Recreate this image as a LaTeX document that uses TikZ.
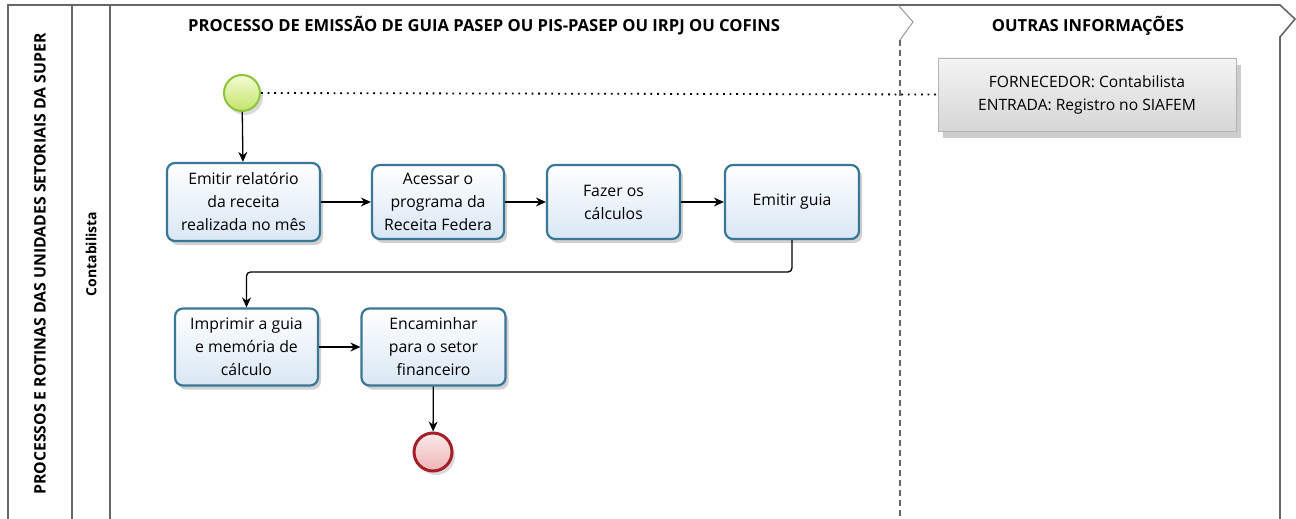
\documentclass[tikz,border=0pt]{standalone}
\usepackage{fontspec}
\setmainfont{Open Sans}
\usetikzlibrary{arrows.meta,shadows,calc}
\definecolor{taskborder}{HTML}{3A7696}
\definecolor{tasktop}{HTML}{FFFFFF}
\definecolor{taskbot}{HTML}{D9E7F4}
\definecolor{framecol}{HTML}{666666}
\definecolor{startborder}{HTML}{8CC43C}
\definecolor{starttop}{HTML}{F4FBD2}
\definecolor{startbot}{HTML}{C2E46A}
\definecolor{endborder}{HTML}{A51F2B}
\definecolor{endtop}{HTML}{FBEAEA}
\definecolor{endbot}{HTML}{EFB4B4}
\definecolor{annborder}{HTML}{B4B4B4}
\definecolor{anntop}{HTML}{F4F4F4}
\definecolor{annbot}{HTML}{D6D6D6}
\tikzset{
  frame/.style={draw=framecol, line width=1.6pt},
  task/.style={draw=taskborder, line width=2.2pt, rounded corners=8pt,
    top color=tasktop, bottom color=taskbot, align=center,
    font=\fontsize{15.8}{23}\selectfont, inner sep=1pt,
    drop shadow={shadow xshift=3pt, shadow yshift=-4pt, fill=black, opacity=0.18}},
  startev/.style={circle, draw=startborder, line width=2pt, minimum size=36pt,
    top color=starttop, bottom color=startbot, inner sep=0pt,
    drop shadow={shadow xshift=3pt, shadow yshift=-4pt, fill=black, opacity=0.15}},
  endev/.style={circle, draw=endborder, line width=3pt, minimum size=38pt,
    top color=endtop, bottom color=endbot, inner sep=0pt,
    drop shadow={shadow xshift=3pt, shadow yshift=-4pt, fill=black, opacity=0.15}},
  ann/.style={draw=annborder, line width=0.8pt, top color=anntop, bottom color=annbot,
    align=center, font=\fontsize{15.6}{23}\selectfont, inner sep=1pt,
    drop shadow={shadow xshift=5pt, shadow yshift=-7pt, fill=black, opacity=0.2}},
  arr/.style={draw=black, line width=1.3pt, -{Stealth[length=10pt,width=9pt]}},
  assoc/.style={draw=black, line width=1.8pt, dash pattern=on 1.8pt off 4.8pt},
  hdr/.style={font=\bfseries\fontsize{16.6}{18}\selectfont},
}
\begin{document}
\begin{tikzpicture}[x=1pt,y=-1pt]
\useasboundingbox (0,0) rectangle (1296,519);
\fill[white] (0,0) rectangle (1296,519);
% frame
\draw[frame] (8,519) -- (8,5) -- (1280,5) -- (1295,19) -- (1280,37) -- (1280,519);
\draw[frame] (72,5) -- (72,519);
\draw[frame] (110,5) -- (110,519);
% phase divider
\draw[draw=gray!80, line width=1pt] (898,5) -- (913,22) -- (900,40);
\draw[draw=framecol, line width=1.2pt, dash pattern=on 6pt off 4pt] (900,40) -- (900,519);
% labels
\node[hdr] (title) at (484,26) {PROCESSO DE EMISSÃO DE GUIA PASEP OU PIS-PASEP OU IRPJ OU COFINS};
\node[hdr] (title2) at (1088,26) {OUTRAS INFORMAÇÕES};
\node[font=\bfseries\fontsize{15.8}{18}\selectfont, rotate=90] (pool) at (40,264) {PROCESSOS E ROTINAS DAS UNIDADES SETORIAIS DA SUPER};
\node[font=\bfseries\fontsize{14}{16}\selectfont, rotate=90] (lane) at (91,254) {Contabilista};
% events
\node[startev] (start) at (242,93) {};
\node[endev] (end) at (433,452) {};
% tasks
\node[task, minimum width=153pt, minimum height=78pt] (t1) at (243.5,202) {Emitir relatório\\da receita\\realizada no mês};
\node[task, minimum width=132pt, minimum height=74pt] (t2) at (438,202) {Acessar o\\programa da\\Receita Federa};
\node[task, minimum width=133pt, minimum height=74pt] (t3) at (613.5,202) {Fazer os\\cálculos};
\node[task, minimum width=134pt, minimum height=74pt] (t4) at (792,202) {Emitir guia};
\node[task, minimum width=143pt, minimum height=77pt] (t5) at (246.5,347) {Imprimir a guia\\e memória de\\cálculo};
\node[task, minimum width=144pt, minimum height=77pt] (t6) at (433.5,347) {Encaminhar\\para o setor\\financeiro};
% annotation
\node[ann, minimum width=298pt, minimum height=73pt] (note) at (1087,94.5) {FORNECEDOR: Contabilista\\ENTRADA: Registro no SIAFEM};
% connectors
\draw[arr] (start) -- (t1);
\draw[arr] (t1) -- (t2);
\draw[arr] (t2) -- (t3);
\draw[arr] (t3) -- (t4);
\coordinate (elb) at (0,272);
\draw[arr, rounded corners=4pt] (t4.south) |- (t5.north |- elb) -- (t5.north);
\draw[arr] (t5) -- (t6);
\draw[arr] (t6) -- (end);
\draw[assoc] (start.east) -- (note.west);
\end{tikzpicture}
\end{document}
